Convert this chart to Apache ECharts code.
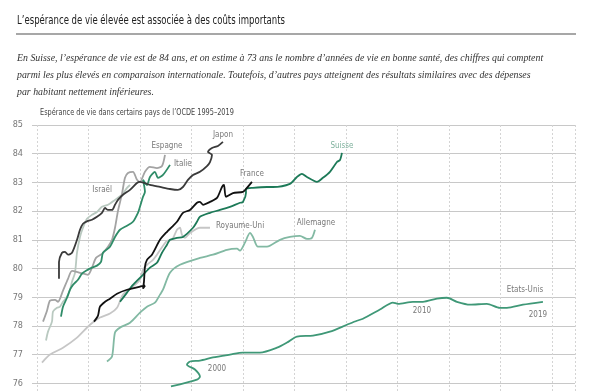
<!DOCTYPE html>
<html><head><meta charset="utf-8">
<script src="https://cdn.jsdelivr.net/npm/echarts@6/dist/echarts.min.js"></script>
<style>html,body{margin:0;padding:0;overflow:hidden;background:#fff;width:592px;height:392px}#c{width:592px;height:420px}</style>
</head><body><div id="c"></div><script>
// x: dépenses de santé par habitant (USD PPA), y: espérance de vie (ans)
const japon = [[1427,79.64],[1427,80.23],[1486,80.55],[1544,80.58],[1602,80.48],[1680,80.55],[1777,81.00],[1835,81.35],[1893,81.56],[1990,81.66],[2068,81.70],[2165,81.80],[2262,81.94],[2321,82.11],[2379,82.04],[2457,82.04],[2515,82.22],[2573,82.39],[2670,82.57],[2806,82.74],[2942,82.98],[3000,83.02],[3194,82.91],[3389,82.84],[3583,82.77],[3738,82.74],[3835,82.84],[3932,83.09],[4030,83.26],[4165,83.37],[4301,83.57],[4360,83.71],[4399,83.96],[4321,84.06],[4399,84.20],[4515,84.27],[4612,84.41]];
const espagne = [[1117,78.15],[1194,78.53],[1252,78.88],[1350,78.91],[1408,78.84],[1505,79.23],[1602,79.64],[1680,79.92],[1835,79.85],[1990,79.78],[2068,80.03],[2146,80.37],[2262,80.51],[2379,80.76],[2457,81.00],[2515,81.42],[2573,82.01],[2651,82.60],[2709,83.16],[2767,83.33],[2864,83.37],[2942,83.09],[3000,83.02],[3097,83.37],[3194,83.54],[3330,83.50],[3428,83.57],[3486,83.96]];
const italie = [[1466,78.32],[1505,78.67],[1583,78.98],[1641,79.26],[1699,79.43],[1796,79.61],[1874,79.82],[1952,79.92],[2068,80.03],[2165,80.10],[2243,80.23],[2282,80.55],[2418,80.76],[2515,81.10],[2612,81.35],[2748,81.49],[2864,81.63],[2961,81.94],[3000,82.15],[3059,82.50],[3097,82.67],[3059,83.09],[3136,82.91],[3194,83.19],[3291,83.37],[3350,83.16],[3447,83.26],[3583,83.61]];
const israel = [[1175,77.49],[1214,77.80],[1291,78.15],[1311,78.50],[1388,78.63],[1447,78.67],[1505,78.84],[1583,79.02],[1641,79.26],[1680,79.54],[1738,79.85],[1777,80.55],[1835,81.10],[1893,81.42],[1971,81.73],[2068,81.87],[2165,81.97],[2262,82.15],[2379,82.22],[2515,82.39],[2651,82.57],[2748,82.81],[2806,82.91]];
const france = [[2107,78.15],[2185,78.36],[2223,78.67],[2321,78.84],[2418,78.95],[2554,79.12],[2748,79.26],[3000,79.37],[3097,79.40],[3059,79.30],[3078,79.54],[3097,80.06],[3136,80.30],[3233,80.48],[3389,81.00],[3525,81.28],[3622,81.45],[3719,81.63],[3835,81.94],[3971,82.04],[4107,82.29],[4165,82.32],[4224,82.22],[4360,82.32],[4496,82.46],[4593,82.84],[4632,82.91],[4670,82.50],[4806,82.63],[5000,82.67],[5078,82.81],[5175,83.02]];
const royaumeUni = [[1097,76.72],[1252,77.00],[1505,77.24],[1777,77.59],[2029,78.04],[2223,78.29],[2418,78.43],[2554,78.63],[2670,79.09],[2864,79.37],[3000,79.61],[3059,79.96],[3136,80.13],[3253,80.30],[3330,80.48],[3447,80.79],[3525,80.97],[3622,81.00],[3719,81.35],[3777,81.42],[3816,81.17],[3874,81.07],[3971,81.24],[4165,81.42],[4360,81.42]];
const allemagne = [[2359,76.76],[2457,76.93],[2515,77.77],[2612,77.94],[2806,78.11],[3000,78.46],[3136,78.67],[3291,78.81],[3389,79.09],[3447,79.26],[3583,79.85],[3777,80.13],[4165,80.37],[4418,80.48],[4690,80.65],[4884,80.69],[4942,80.62],[5039,80.90],[5137,81.24],[5195,81.10],[5292,80.76],[5467,80.76],[5719,81.00],[5913,81.10],[6107,81.14],[6243,81.03],[6340,81.07],[6399,81.35]];
const suisse = [[2612,78.84],[2748,79.16],[2864,79.43],[3059,79.78],[3194,80.03],[3330,80.20],[3428,80.55],[3525,80.83],[3583,81.00],[3719,81.07],[3835,81.10],[4030,81.42],[4107,81.63],[4165,81.80],[4360,81.94],[4554,82.04],[4748,82.15],[4942,82.29],[5000,82.32],[5059,82.63],[5059,82.77],[5195,82.81],[5467,82.84],[5583,82.84],[5913,82.95],[6049,83.19],[6146,83.30],[6243,83.19],[6438,83.02],[6554,83.16],[6690,83.37],[6826,83.71],[6885,83.78],[6923,84.03]];
const etatsUnis = [[3602,75.89],[4107,76.13],[4165,76.23],[4068,76.48],[3913,76.65],[3971,76.76],[4165,76.79],[4418,76.90],[4748,77.00],[5000,77.07],[5331,77.07],[5661,77.24],[5855,77.42],[6049,77.63],[6360,77.66],[6690,77.80],[7020,78.04],[7214,78.18],[7331,78.25],[7661,78.57],[7914,78.81],[8011,78.77],[8302,78.84],[8496,78.84],[8768,78.95],[8962,78.98],[9156,78.84],[9409,78.74],[9739,78.77],[9991,78.63],[10127,78.63],[10438,78.74],[10827,78.84]];
const usYearIdx = [5, 22, 32];
const usYearText = ['2000', '2010', '2019'];
const yTicks = [75, 85, 1];

const countries = [
  {name:'Royaume-Uni', data:royaumeUni, color:'#c6c6c6', off:[6,-2], align:'left'},
  {name:'Israël', data:israel, color:'#b9c9c0', off:[-18,5], align:'right'},
  {name:'Espagne', data:espagne, color:'#a3a3a3', off:[2,-9], align:'center'},
  {name:'Allemagne', data:allemagne, color:'#82b9a3', off:[1,-7], align:'center'},
  {name:'Italie', data:italie, color:'#2f8c68', off:[4,-1], align:'left'},
  {name:'Etats-Unis', data:etatsUnis, color:'#3f9877', off:[-18,-12], align:'center'},
  {name:'Suisse', data:suisse, color:'#1d7a58', off:[0,-7], align:'center', lc:'#5f9e85'},
  {name:'France', data:france, color:'#111111', off:[0,-8], align:'center'},
  {name:'Japon', data:japon, color:'#3a3a3a', off:[0,-7], align:'center'}
];
const yearOff = [[27,7],[9,9],[-5,13]];
const FONT = '"DejaVu Sans Condensed","DejaVu Sans",sans-serif';

const series = countries.map(c => ({
  type:'line', name:c.name, data:c.data, smooth:0.25, symbol:'none',
  lineStyle:{color:c.color, width:1.8}, silent:true, animation:false
}));
series.push({
  type:'scatter', symbolSize:1, itemStyle:{color:'rgba(0,0,0,0)'}, silent:true, animation:false,
  data: countries.map(c => ({value:c.data[c.data.length-1], label:{show:true, formatter:c.name, position:'inside', align:c.align, verticalAlign:'middle', offset:c.off, color:c.lc||'#555', fontSize:8, fontFamily:FONT}}))
    .concat(usYearIdx.map((ix,k)=>({value:etatsUnis[ix], label:{show:true, formatter:usYearText[k], position:'inside', align:'center', verticalAlign:'middle', offset:yearOff[k], color:'#555', fontSize:8, fontFamily:FONT}})))
});

const chart = echarts.init(document.getElementById('c'), null, {renderer:'canvas'});
chart.setOption({
  animation:false,
  backgroundColor:'#fff',
  grid:{left:37, right:17, top:125, height:287},
  xAxis:{type:'value', min:1000, max:11450, interval:1000, axisLine:{show:false}, axisTick:{show:false}, axisLabel:{show:false},
    splitLine:{show:true, lineStyle:{color:'#d4d4d4', type:[2,2], width:1}}},
  yAxis:{type:'value', min:yTicks[0], max:yTicks[1], interval:yTicks[2], axisLine:{show:false},
    axisTick:{show:true, length:5, lineStyle:{color:'#c8c8c8'}},
    axisLabel:{color:'#777', fontSize:9, margin:14, fontFamily:FONT},
    splitLine:{lineStyle:{color:'#c8c8c8', width:1}}},
  graphic:[
    {type:'text', x:17, y:15, scaleX:0.79, style:{text:'L’espérance de vie élevée est associée à des coûts importants', font:'12px "DejaVu Sans Condensed"', fill:'#222'}},
    {type:'line', shape:{x1:16, y1:34, x2:576, y2:34}, style:{stroke:'#8a8a8a', lineWidth:1.5}},
    {type:'text', x:17, y:50, scaleX:0.895, style:{text:'En Suisse, l’espérance de vie est de 84 ans, et on estime à 73 ans le nombre d’années de vie en bonne santé, des chiffres qui comptent\nparmi les plus élevés en comparaison internationale. Toutefois, d’autres pays atteignent des résultats similaires avec des dépenses\npar habitant nettement inférieures.', font:'italic 11px "Liberation Serif"', fill:'#333', lineHeight:17}},
    {type:'text', x:40, y:109, scaleX:0.91, style:{text:'Espérance de vie dans certains pays de l’OCDE 1995–2019', font:'8px "DejaVu Sans Condensed"', fill:'#444'}}
  ],
  series
});
</script></body></html>
